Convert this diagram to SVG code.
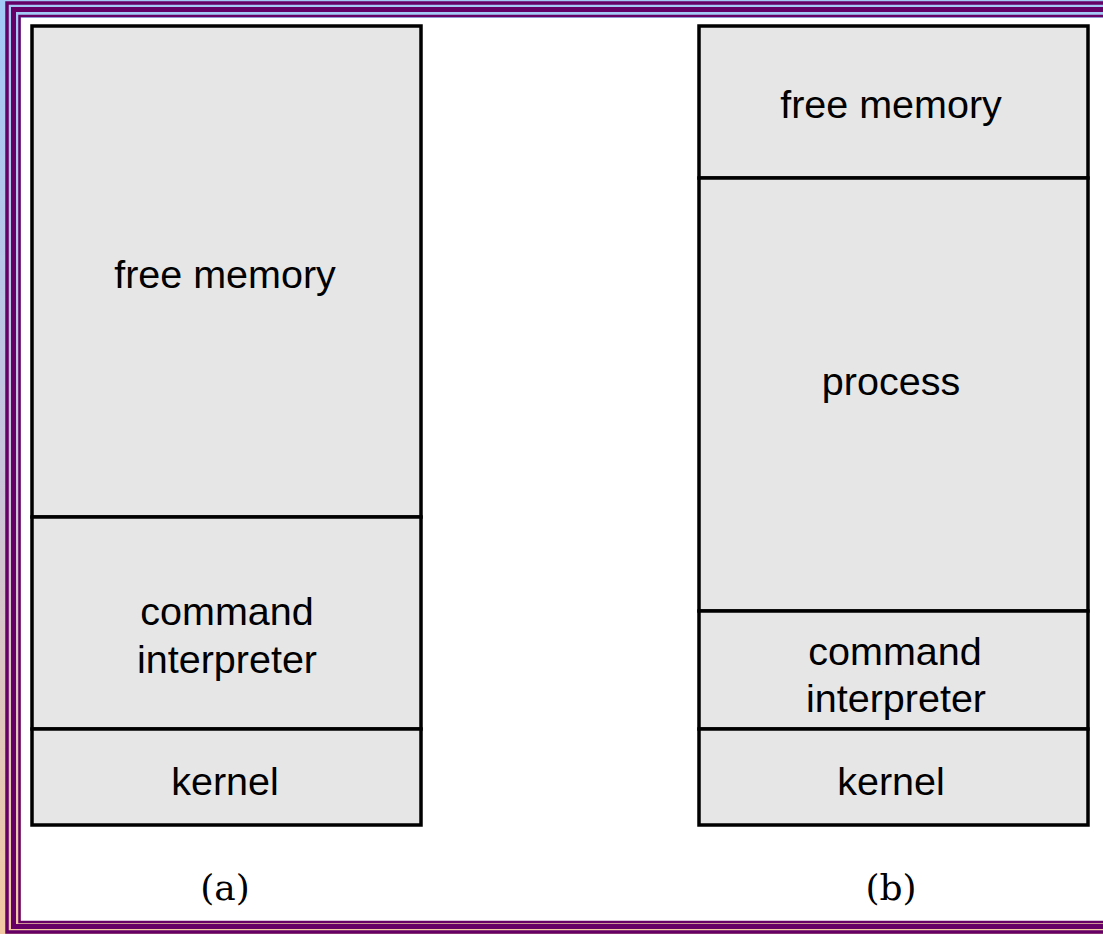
<svg xmlns="http://www.w3.org/2000/svg" width="1103" height="934" viewBox="0 0 1103 934">
<defs>
<linearGradient id="bg" x1="0" y1="0" x2="0" y2="1">
<stop offset="0" stop-color="#a3c9f7"/>
<stop offset="0.5" stop-color="#c9c4dc"/>
<stop offset="1" stop-color="#f3c9a3"/>
</linearGradient>
<style>
.frame{fill:none;stroke:#660066}
.box{fill:#e6e6e6;stroke:#000;stroke-width:3.5}
.lbl{font-family:"Liberation Sans",Arial,sans-serif;font-size:39.5px;fill:#000;text-anchor:middle}
.cap{font-family:"DejaVu Serif","Liberation Serif",serif;font-size:36px;fill:#000;text-anchor:middle}
</style>
</defs>
<rect x="0" y="0" width="1103" height="934" fill="url(#bg)"/>
<rect x="21" y="18" width="1100" height="903" fill="#ffffff"/>
<rect class="frame" x="7" y="3" width="1200" height="929" stroke-width="3.5"/>
<rect class="frame" x="13.5" y="9.5" width="1200" height="917" stroke-width="5"/>
<rect class="frame" x="19.5" y="16" width="1200" height="906" stroke-width="2.5"/>
<g id="a-free-memory">
<rect class="box" x="32" y="26" width="389" height="491"/>
<text class="lbl" x="225" y="288">free memory</text>
</g>
<g id="a-command-interpreter">
<rect class="box" x="32" y="517" width="389" height="212"/>
<text class="lbl" x="227" y="625">command</text>
<text class="lbl" x="227" y="673">interpreter</text>
</g>
<g id="a-kernel">
<rect class="box" x="32" y="729" width="389" height="96"/>
<text class="lbl" x="225" y="795">kernel</text>
</g>
<g id="b-free-memory">
<rect class="box" x="699" y="26" width="389" height="152"/>
<text class="lbl" x="891" y="118">free memory</text>
</g>
<g id="b-process">
<rect class="box" x="699" y="178" width="389" height="433"/>
<text class="lbl" x="891" y="395">process</text>
</g>
<g id="b-command-interpreter">
<rect class="box" x="699" y="611" width="389" height="118"/>
<text class="lbl" x="895" y="665">command</text>
<text class="lbl" x="896" y="712">interpreter</text>
</g>
<g id="b-kernel">
<rect class="box" x="699" y="729" width="389" height="96"/>
<text class="lbl" x="891" y="795">kernel</text>
</g>
<g id="connectors"></g>
<g id="captions">
<text class="cap" x="225" y="900">(a)</text>
<text class="cap" x="891" y="900">(b)</text>
</g>
</svg>
